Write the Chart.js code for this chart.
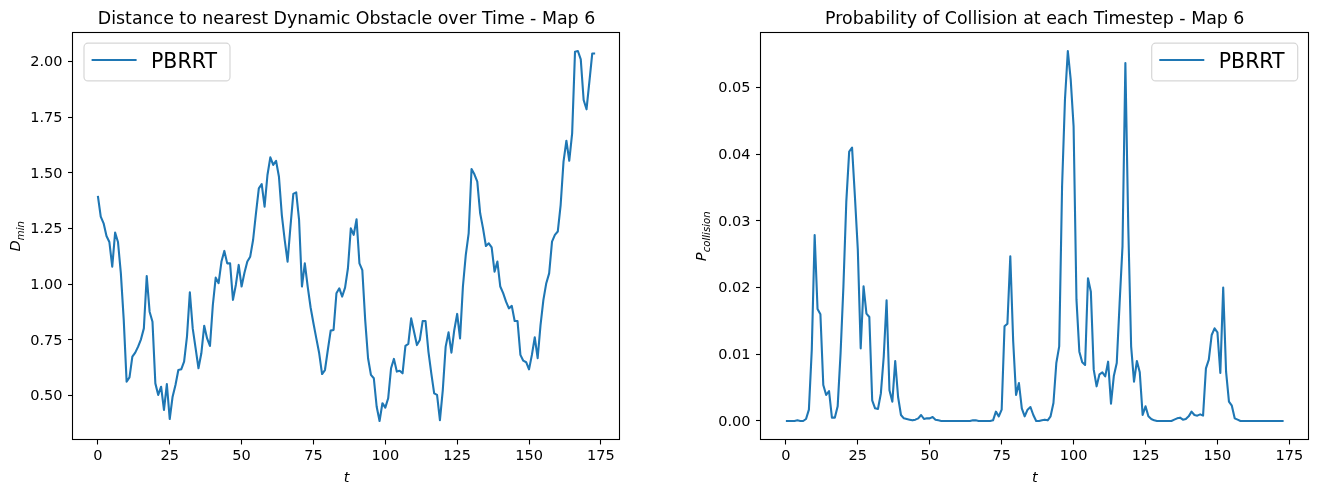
<!DOCTYPE html>
<html>
<head>
<meta charset="utf-8">
<script src="https://cdn.jsdelivr.net/npm/chart.js@4.4.0/dist/chart.umd.min.js"></script>
<style>
html, body { margin: 0; padding: 0; background: #ffffff; }
#wrap { position: relative; width: 1318px; height: 484px; overflow: hidden; background: #fff; }
canvas { position: absolute; top: 0; }
</style>
</head>
<body>
<div id="wrap">
  <canvas id="c1" width="659" height="484" style="left:0px"></canvas>
  <canvas id="c2" width="659" height="484" style="left:659px"></canvas>
</div>
<script>
// ---------------- data ----------------
const seriesLabel = 'PBRRT';
const titleDist = 'Distance to nearest Dynamic Obstacle over Time - Map 6';
const titleColl = 'Probability of Collision at each Timestep - Map 6';
const xLabel = 't';
const yLabelDist = ['D', 'min'];
const yLabelColl = ['P', 'collision'];

const dMin = [
  1.397, 1.304, 1.274, 1.217, 1.190, 1.079, 1.232, 1.190, 1.049, 0.840,
  0.563, 0.582, 0.675, 0.693, 0.720, 0.753, 0.802, 1.037, 0.877, 0.832,
  0.555, 0.503, 0.540, 0.436, 0.552, 0.395, 0.495, 0.548, 0.615, 0.618,
  0.653, 0.765, 0.964, 0.802, 0.713, 0.623, 0.690, 0.814, 0.757, 0.723,
  0.907, 1.030, 1.005, 1.102, 1.150, 1.094, 1.094, 0.930, 0.997, 1.087,
  0.990, 1.052, 1.102, 1.124, 1.199, 1.319, 1.431, 1.450, 1.349, 1.491,
  1.570, 1.536, 1.554, 1.483, 1.311, 1.199, 1.102, 1.259, 1.406, 1.413,
  1.289, 0.990, 1.094, 0.990, 0.897, 0.825, 0.757, 0.690, 0.597, 0.615,
  0.705, 0.792, 0.795, 0.960, 0.982, 0.945, 0.985, 1.072, 1.251, 1.222,
  1.292, 1.094, 1.064, 0.840, 0.668, 0.593, 0.578, 0.450, 0.386, 0.466,
  0.446, 0.488, 0.623, 0.665, 0.608, 0.612, 0.600, 0.723, 0.732, 0.847,
  0.787, 0.727, 0.750, 0.835, 0.835, 0.698, 0.600, 0.510, 0.503, 0.390,
  0.525, 0.720, 0.784, 0.693, 0.795, 0.867, 0.757, 0.990, 1.132, 1.229,
  1.518, 1.494, 1.461, 1.319, 1.251, 1.172, 1.184, 1.166, 1.057, 1.102,
  0.990, 0.960, 0.922, 0.892, 0.903, 0.835, 0.835, 0.683, 0.657, 0.650,
  0.618, 0.683, 0.762, 0.668, 0.817, 0.930, 1.005, 1.049, 1.192, 1.222,
  1.237, 1.356, 1.551, 1.645, 1.555, 1.678, 2.045, 2.048, 2.010, 1.828,
  1.786, 1.910, 2.037, 2.037
];

const pColl = [
  0.0000, 0.0000, 0.0000, 0.0000, 0.0001, 0.0000, 0.0000, 0.0003, 0.0017, 0.0107,
  0.0279, 0.0168, 0.0160, 0.0054, 0.0039, 0.0045, 0.0005, 0.0005, 0.0022, 0.0101,
  0.0202, 0.0329, 0.0404, 0.0410, 0.0336, 0.0257, 0.0109, 0.0202, 0.0161, 0.0156,
  0.0031, 0.0019, 0.0018, 0.0041, 0.0096, 0.0181, 0.0046, 0.0029, 0.0090, 0.0036,
  0.0009, 0.0004, 0.0003, 0.0002, 0.0001, 0.0002, 0.0004, 0.0009, 0.0003, 0.0004,
  0.0004, 0.0006, 0.0002, 0.0001, 0.0000, 0.0000, 0.0000, 0.0000, 0.0000, 0.0000,
  0.0000, 0.0000, 0.0000, 0.0000, 0.0000, 0.0001, 0.0001, 0.0000, 0.0000, 0.0000,
  0.0000, 0.0000, 0.0001, 0.0014, 0.0007, 0.0017, 0.0142, 0.0146, 0.0247, 0.0120,
  0.0039, 0.0057, 0.0019, 0.0007, 0.0017, 0.0021, 0.0009, 0.0000, 0.0000, 0.0001,
  0.0002, 0.0001, 0.0007, 0.0027, 0.0087, 0.0112, 0.0352, 0.0482, 0.0555, 0.0512,
  0.0442, 0.0182, 0.0104, 0.0088, 0.0084, 0.0214, 0.0194, 0.0077, 0.0052, 0.0070,
  0.0073, 0.0067, 0.0089, 0.0026, 0.0068, 0.0087, 0.0177, 0.0262, 0.0537, 0.0292,
  0.0112, 0.0059, 0.0090, 0.0073, 0.0009, 0.0022, 0.0007, 0.0003, 0.0001, 0.0000,
  0.0000, 0.0000, 0.0000, 0.0000, 0.0000, 0.0002, 0.0004, 0.0005, 0.0002, 0.0003,
  0.0007, 0.0014, 0.0009, 0.0008, 0.0010, 0.0008, 0.0079, 0.0092, 0.0129, 0.0139,
  0.0133, 0.0072, 0.0200, 0.0074, 0.0029, 0.0023, 0.0004, 0.0002, 0.0000, 0.0000,
  0.0000, 0.0000, 0.0000, 0.0000, 0.0000, 0.0000, 0.0000, 0.0000, 0.0000, 0.0000,
  0.0000, 0.0000, 0.0000, 0.0000
];

const timesteps = dMin.map((_, i) => i);
const xTicks = [0, 25, 50, 75, 100, 125, 150, 175];
const yTicksDist = [0.50, 0.75, 1.00, 1.25, 1.50, 1.75, 2.00];
const yTicksColl = [0.00, 0.01, 0.02, 0.03, 0.04, 0.05];

// ---------------- styling ----------------
const FONT = "'DejaVu Sans', 'Liberation Sans', sans-serif";
const LINE_COLOR = '#1f77b4';

function autoRange(arr) {
  const lo = Math.min(...arr), hi = Math.max(...arr);
  const m = (hi - lo) * 0.05;
  return [lo - m, hi + m];
}

const decorPlugin = {
  id: 'decor',
  afterDraw(chart, args, o) {
    const ctx = chart.ctx;
    const a = chart.chartArea;
    ctx.save();
    // spines
    ctx.strokeStyle = '#000';
    ctx.lineWidth = 1.1;
    const L = Math.round(a.left) - 0.5, R = Math.round(a.right) - 0.5;
    const T = Math.round(a.top) + 0.5, B = Math.round(a.bottom) - 0.5;
    ctx.strokeRect(L, T, R - L, B - T);

    // legend
    const lw = 146, lh = 37.7;
    const lx = o.legendSide === 'left' ? a.left + 11 : a.right - 10.8 - lw;
    const ly = a.top + 10.7;
    const r = 4;
    ctx.beginPath();
    ctx.moveTo(lx + r, ly);
    ctx.lineTo(lx + lw - r, ly);
    ctx.arcTo(lx + lw, ly, lx + lw, ly + r, r);
    ctx.lineTo(lx + lw, ly + lh - r);
    ctx.arcTo(lx + lw, ly + lh, lx + lw - r, ly + lh, r);
    ctx.lineTo(lx + r, ly + lh);
    ctx.arcTo(lx, ly + lh, lx, ly + lh - r, r);
    ctx.lineTo(lx, ly + r);
    ctx.arcTo(lx, ly, lx + r, ly, r);
    ctx.closePath();
    ctx.fillStyle = 'rgba(255,255,255,0.8)';
    ctx.fill();
    ctx.strokeStyle = 'rgba(204,204,204,0.8)';
    ctx.lineWidth = 1.2;
    ctx.stroke();
    const ds = chart.data.datasets[0];
    ctx.strokeStyle = ds.borderColor;
    ctx.lineWidth = 2.1;
    ctx.beginPath();
    ctx.moveTo(lx + 7.6, ly + 16.8);
    ctx.lineTo(lx + 52.6, ly + 16.8);
    ctx.stroke();
    ctx.fillStyle = '#000';
    ctx.font = '20.5px ' + FONT;
    ctx.textAlign = 'left';
    ctx.textBaseline = 'alphabetic';
    ctx.fillText(ds.label, lx + 67, ly + 24.6);

    // y axis label with subscript
    const mainFont = 'italic 14.5px ' + FONT;
    const subFont = 'italic 10.15px ' + FONT;
    ctx.save();
    ctx.translate(o.yLabelX, (a.top + a.bottom) / 2 + 0.5);
    ctx.rotate(-Math.PI / 2);
    ctx.font = mainFont;
    const w1 = ctx.measureText(o.yLabel[0]).width;
    ctx.font = subFont;
    const w2 = ctx.measureText(o.yLabel[1]).width;
    const x0 = -(w1 + w2) / 2;
    ctx.fillStyle = '#000';
    ctx.textAlign = 'left';
    ctx.textBaseline = 'alphabetic';
    ctx.font = mainFont;
    ctx.fillText(o.yLabel[0], x0, 0);
    ctx.font = subFont;
    ctx.fillText(o.yLabel[1], x0 + w1 + 0.3, 3.6);
    ctx.restore();

    // x axis label
    ctx.font = mainFont;
    ctx.fillStyle = '#000';
    ctx.textAlign = 'center';
    ctx.textBaseline = 'alphabetic';
    ctx.fillText(o.xLabel, (a.left + a.right) / 2, 482);
    ctx.restore();
  }
};

function makeChart(id, cfg) {
  const [yMin, yMax] = autoRange(cfg.data);
  const [xMin, xMax] = autoRange(timesteps);
  const gridOpts = {
    display: true, drawOnChartArea: false, drawTicks: true,
    tickLength: 5, tickColor: '#000', color: '#000', tickWidth: 1.1
  };
  return new Chart(document.getElementById(id), {
    type: 'line',
    data: {
      labels: timesteps,
      datasets: [{
        label: seriesLabel,
        data: cfg.data,
        borderColor: LINE_COLOR,
        backgroundColor: LINE_COLOR,
        borderWidth: 2.1,
        pointRadius: 0,
        pointHoverRadius: 0,
        tension: 0,
        fill: false,
        borderJoinStyle: 'round',
        borderCapStyle: 'butt'
      }]
    },
    options: {
      responsive: false,
      animation: false,
      devicePixelRatio: 1,
      events: [],
      layout: { padding: { left: 0, right: cfg.padRight, top: 0, bottom: 0 } },
      plugins: {
        legend: { display: false },
        tooltip: { enabled: false },
        title: {
          display: true,
          fullSize: false,
          text: cfg.title,
          color: '#000',
          font: { family: FONT, size: 17.4, weight: 'normal', lineHeight: 1.2 },
          padding: { top: 9.0, bottom: 2.6 }
        },
        decor: { legendSide: cfg.legendSide, yLabel: cfg.yLabel, yLabelX: cfg.yLabelX, xLabel: xLabel }
      },
      scales: {
        x: {
          type: 'linear',
          min: xMin, max: xMax,
          afterBuildTicks: s => { s.ticks = xTicks.map(v => ({ value: v })); },
          afterFit: s => { s.height = 44.5; },
          grid: gridOpts,
          border: { display: false },
          ticks: {
            autoSkip: false, maxRotation: 0, minRotation: 0, padding: 3.5,
            color: '#000', font: { family: FONT, size: 14.5 },
            callback: v => String(v)
          }
        },
        y: {
          type: 'linear',
          min: yMin, max: yMax,
          afterBuildTicks: s => { s.ticks = cfg.yTicks.map(v => ({ value: v })); },
          afterFit: s => { s.width = cfg.yWidth; },
          grid: gridOpts,
          border: { display: false },
          ticks: {
            autoSkip: false, padding: 5.5, labelOffset: 1,
            color: '#000', font: { family: FONT, size: 14.5 },
            callback: v => Number(v).toFixed(2)
          }
        }
      }
    },
    plugins: [decorPlugin]
  });
}

makeChart('c1', {
  title: titleDist, data: dMin, yTicks: yTicksDist,
  yWidth: 73, padRight: 39, legendSide: 'left', yLabel: yLabelDist, yLabelX: 20
});
makeChart('c2', {
  title: titleColl, data: pColl, yTicks: yTicksColl,
  yWidth: 102, padRight: 9.5, legendSide: 'right', yLabel: yLabelColl, yLabelX: 47
});
</script>
</body>
</html>
